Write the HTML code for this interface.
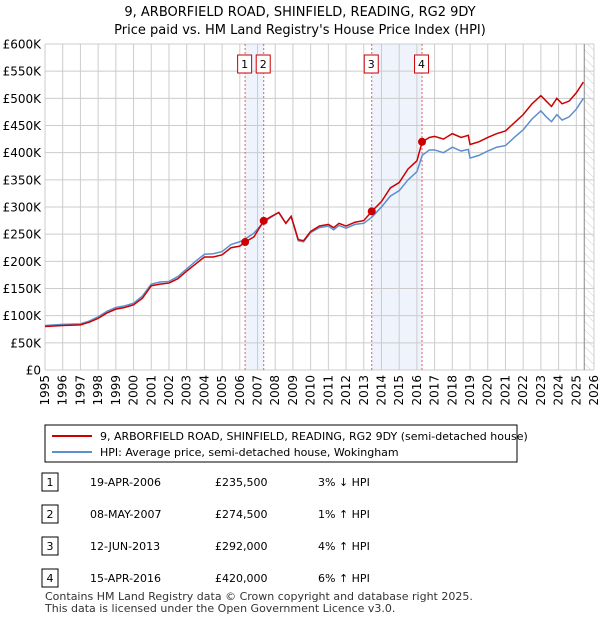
<!DOCTYPE html>
<html><head><meta charset="utf-8"><style>
body{margin:0;background:#fff;font-family:"Liberation Sans","DejaVu Sans",sans-serif;}
svg text{font-family:"DejaVu Sans","Liberation Sans",sans-serif;}
</style></head><body>
<svg width="600" height="620" viewBox="0 0 600 620" xmlns="http://www.w3.org/2000/svg">
<defs><pattern id="hatch" width="6" height="6" patternUnits="userSpaceOnUse" patternTransform="rotate(-45)"><line x1="0" y1="0" x2="0" y2="6" stroke="#ccc" stroke-width="1"/></pattern></defs>
<text x="300" y="16" text-anchor="middle" font-size="13">9, ARBORFIELD ROAD, SHINFIELD, READING, RG2 9DY</text>
<text x="300" y="34" text-anchor="middle" font-size="13">Price paid vs. HM Land Registry's House Price Index (HPI)</text>
<g id="plot"></g>
<rect x="45" y="425" width="472" height="37" fill="#fff" stroke="#000" stroke-width="1"/>
<line x1="52" y1="436" x2="92" y2="436" stroke="#cc0000" stroke-width="2"/>
<text x="100" y="440" font-size="11">9, ARBORFIELD ROAD, SHINFIELD, READING, RG2 9DY (semi-detached house)</text>
<line x1="52" y1="452" x2="92" y2="452" stroke="#5b8fd0" stroke-width="2"/>
<text x="100" y="456" font-size="11">HPI: Average price, semi-detached house, Wokingham</text>
<g id="table" font-size="11"></g>
<text x="45" y="600" font-size="11" fill="#333">Contains HM Land Registry data © Crown copyright and database right 2025.</text>
<text x="45" y="612" font-size="11" fill="#333">This data is licensed under the Open Government Licence v3.0.</text>
</svg>
<script>
const years=[1995,1996,1997,1998,1999,2000,2001,2002,2003,2004,2005,2006,2007,2008,2009,2010,2011,2012,2013,2014,2015,2016,2017,2018,2019,2020,2021,2022,2023,2024,2025,2026];
const yTicks=[0,50,100,150,200,250,300,350,400,450,500,550,600];
const yTickLabels=["£0","£50K","£100K","£150K","£200K","£250K","£300K","£350K","£400K","£450K","£500K","£550K","£600K"];
const priceT=[1995,1996,1997,1997.5,1998,1998.5,1999,1999.5,2000,2000.5,2001,2001.5,2002,2002.5,2003,2003.5,2004,2004.5,2005,2005.5,2006,2006.3,2006.8,2007.35,2007.8,2008.2,2008.6,2008.9,2009.3,2009.6,2010,2010.5,2011,2011.3,2011.6,2012,2012.5,2013,2013.45,2014,2014.5,2015,2015.5,2016,2016.3,2016.7,2017,2017.5,2018,2018.5,2018.9,2019,2019.5,2020,2020.5,2021,2021.5,2022,2022.5,2023,2023.3,2023.6,2023.9,2024.2,2024.6,2025,2025.4];
const priceV=[80,82,83,88,95,105,112,115,120,132,155,158,160,168,182,195,208,208,212,225,228,235.5,245,274.5,283,290,270,283,240,238,255,265,268,262,270,265,272,275,292,310,335,345,370,385,420,428,430,425,435,428,432,415,420,428,435,440,455,470,490,505,495,485,500,490,495,510,530];
const hpiT=[1995,1996,1997,1997.5,1998,1998.5,1999,1999.5,2000,2000.5,2001,2001.5,2002,2002.5,2003,2003.5,2004,2004.5,2005,2005.5,2006,2006.3,2006.8,2007.35,2007.8,2008.2,2008.6,2008.9,2009.3,2009.6,2010,2010.5,2011,2011.3,2011.6,2012,2012.5,2013,2013.45,2014,2014.5,2015,2015.5,2016,2016.3,2016.7,2017,2017.5,2018,2018.5,2018.9,2019,2019.5,2020,2020.5,2021,2021.5,2022,2022.5,2023,2023.3,2023.6,2023.9,2024.2,2024.6,2025,2025.4];
const hpiV=[82,84,85,90,98,108,115,118,123,136,158,162,163,172,186,200,213,214,218,231,236,241,252,272,282,290,270,282,238,236,253,262,265,258,266,261,268,270,281,300,320,330,350,365,395,405,405,400,410,403,406,390,395,403,410,413,428,442,462,477,466,457,470,460,466,480,500];
const saleT=[2006.3,2007.35,2013.45,2016.29];
const saleV=[235.5,274.5,292,420];
const saleLabels=["1","2","3","4"];
const saleDates=["19-APR-2006","08-MAY-2007","12-JUN-2013","15-APR-2016"];
const salePrices=["£235,500","£274,500","£292,000","£420,000"];
const saleHpi=["3% ↓ HPI","1% ↑ HPI","4% ↑ HPI","6% ↑ HPI"];

const X0=45,X1=594,Y0=370,Y1=44;
const x=t=>X0+(t-1995)/(2026-1995)*(X1-X0);
const y=v=>Y0-v/600*(Y0-Y1);
const NS="http://www.w3.org/2000/svg";
const plot=document.getElementById('plot');
function mk(tag,attrs,parent){const e=document.createElementNS(NS,tag);for(const k in attrs)e.setAttribute(k,attrs[k]);(parent||plot).appendChild(e);return e;}
let e;
e=mk('rect',{x:X0,y:Y1,width:X1-X0,height:Y0-Y1,fill:'#fff'});


[[saleT[0],saleT[1]],[saleT[2],saleT[3]]].forEach(p=>{e=mk('rect',{x:x(p[0]),y:Y1,width:x(p[1])-x(p[0]),height:Y0-Y1,fill:'#eef3fc'});

});
e=mk('rect',{x:x(2025.45),y:Y1,width:X1-x(2025.45),height:Y0-Y1,fill:'url(#hatch)'});


years.forEach(t=>{e=mk('line',{x1:x(t),x2:x(t),y1:Y1,y2:Y0,stroke:'#ccc','stroke-width':1});


e=mk('text',{x:0,y:0,'font-size':12,'text-anchor':'end',transform:`translate(${x(t)+4},${Y0+5}) rotate(-90)`});e.textContent=t;

});
yTicks.forEach((v,i)=>{e=mk('line',{x1:X0,x2:X1,y1:y(v),y2:y(v),stroke:'#ccc','stroke-width':1});


e=mk('text',{x:X0-4,y:y(v)+4.5,'font-size':12,'text-anchor':'end'});e.textContent=yTickLabels[i];

});
e=mk('line',{x1:x(2025.45),x2:x(2025.45),y1:Y1,y2:Y0,stroke:'#888','stroke-width':1});


saleT.forEach((t,i)=>{e=mk('line',{x1:x(t),x2:x(t),y1:Y1,y2:Y0,stroke:'#e06060','stroke-width':1,'stroke-dasharray':'2,2'});


e=mk('rect',{x:x(t)-7.5,y:55,width:14,height:18,fill:'#fff',stroke:'#cc0000'});


e=mk('text',{x:x(t)-0.5,y:68,'font-size':11,'text-anchor':'middle'});e.textContent=saleLabels[i];

});
e=mk('polyline',{points:hpiT.map((t,i)=>x(t)+','+y(hpiV[i])).join(' '),fill:'none',stroke:'#5b8fd0','stroke-width':1.5});


e=mk('polyline',{points:priceT.map((t,i)=>x(t)+','+y(priceV[i])).join(' '),fill:'none',stroke:'#cc0000','stroke-width':1.5});


saleT.forEach((t,i)=>{e=mk('circle',{cx:x(t),cy:y(saleV[i]),r:4,fill:'#cc0000'});

});
const tb=document.getElementById('table');
saleLabels.forEach((l,i)=>{const cy=482+i*32;
e=mk('rect',{x:42,y:cy-9,width:16,height:18,fill:'#fff',stroke:'#000'},tb);


const cells=[[50,l,'middle'],[90,saleDates[i],'start'],[215,salePrices[i],'start'],[318,saleHpi[i],'start']];
cells.forEach(c=>{e=mk('text',{x:c[0],y:cy+4,'text-anchor':c[2]},tb);e.textContent=c[1];

});});
</script>
</body></html>
